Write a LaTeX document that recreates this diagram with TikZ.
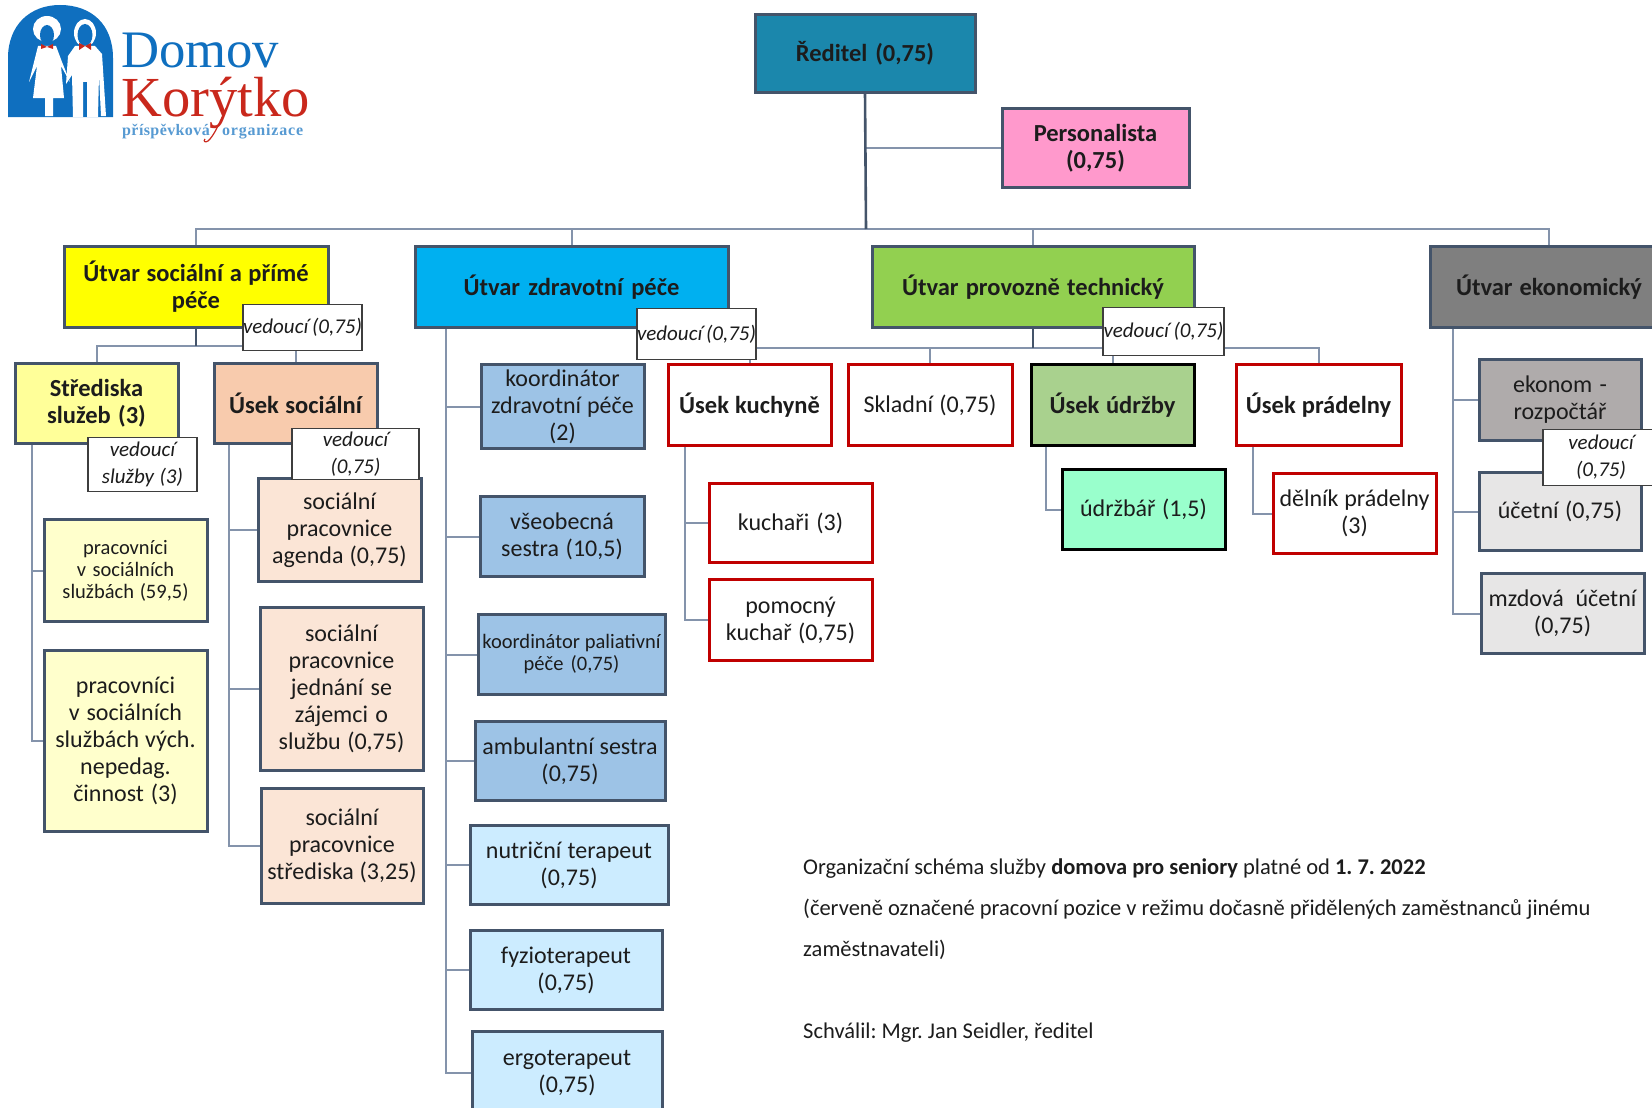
\documentclass[tikz,border=0pt]{standalone}
\usepackage{fontspec}
\setmainfont{Carlito}
\newfontfamily\logofont{Liberation Serif}
\usetikzlibrary{backgrounds}
\frenchspacing
\definecolor{edge}{HTML}{44546A}
\definecolor{lightconn}{HTML}{8493AB}
\definecolor{redb}{HTML}{C00000}
\definecolor{ink}{HTML}{1C1C1C}
\definecolor{logoblue}{HTML}{0F6FBF}
\definecolor{logored}{HTML}{C9281C}
\definecolor{cdir}{HTML}{1B87AC}
\definecolor{cpink}{HTML}{FF99CC}
\definecolor{cyel}{HTML}{FFFF00}
\definecolor{ccyan}{HTML}{00B0F0}
\definecolor{cgreen}{HTML}{92D050}
\definecolor{cgrey}{HTML}{7F7F7F}
\definecolor{cyelb}{HTML}{FFFF99}
\definecolor{cyelc}{HTML}{FFFFCC}
\definecolor{cpeach}{HTML}{F8CBAD}
\definecolor{cpeachl}{HTML}{FBE5D6}
\definecolor{cblue}{HTML}{9DC3E6}
\definecolor{cbluel}{HTML}{CCECFF}
\definecolor{cgreenb}{HTML}{A9D18E}
\definecolor{cmint}{HTML}{99FFCC}
\definecolor{cgreyb}{HTML}{AFABAB}
\definecolor{cgreyl}{HTML}{E7E6E6}
\newcommand{\fsN}{\fontsize{24}{27}\selectfont}
\newcommand{\fsS}{\fontsize{20.5}{22}\selectfont}
\newcommand{\fsV}{\fontsize{21}{27}\selectfont\itshape}
\tikzset{
  x=1pt,y=-1pt,
  box/.style={draw=edge,line width=3pt,inner sep=0pt,outer sep=0pt,align=center,text=ink,font=\fsN},
  redbox/.style={box,draw=redb},
  blackbox/.style={box,draw=black},
  hd/.style={font=\fontsize{24.5}{27}\selectfont\bfseries},
  small/.style={font=\fsS},
  lead/.style={draw=ink!85,line width=1.5pt,fill=white,inner sep=0pt,outer sep=0pt,align=center,text=ink,font=\fsV},
  conn/.style={draw=edge,line width=2pt},
  lconn/.style={draw=lightconn,line width=2pt},
  note/.style={anchor=base west,inner sep=0pt,text=ink,font=\fontsize{22.5}{25}\selectfont},
}
\newcommand{\bx}[7][]{%
  \pgfmathsetmacro{\cxx}{(#3+#5)/2}\pgfmathsetmacro{\cyy}{(#4+#6)/2}%
  \pgfmathsetmacro{\ww}{#5-#3-3}\pgfmathsetmacro{\hh}{#6-#4-3}\pgfmathsetmacro{\tw}{#5-#3-2}%
  \node[#1,minimum width=\ww pt,minimum height=\hh pt,text width=\tw pt] (#2) at (\cxx,\cyy) {\spaceskip=0pt\relax #7};}
\begin{document}
\begin{tikzpicture}
\useasboundingbox (0,0) rectangle (1652,1108);
\clip (0,0) rectangle (1652,1108);
% logo
\fill[logoblue] (8,117) -- (8,58) .. controls (8,25) and (30,5) .. (60,5) .. controls (92,5) and (113,25) .. (113,58) -- (113,117) -- cycle;
\fill[white] (47,29) ellipse (14 and 13);
\fill[logoblue] (47,35) ellipse (7 and 10);
\fill[white] (38,46) -- (56,46) -- (62,62) -- (70,82) -- (61,66) -- (64,98) -- (53,98) -- (53,116) -- (45,116) -- (45,98) -- (33,98) -- (37,66) -- (29,82) -- cycle;
\fill[white] (85,33) ellipse (11 and 14);
\fill[logoblue] (85,35) ellipse (7.5 and 11);
\fill[white] (75,46) -- (95,46) -- (102,54) -- (106,116) -- (101,116) -- (99,75) -- (98,117) -- (87,117) -- (87,82) -- (83,82) -- (83,117) -- (73,117) -- (72,75) -- (66,84) -- (68,56) -- cycle;
\fill[logored] (41,44) -- (47,47) -- (53,44) -- (53,49) -- (47,47) -- (41,49) -- cycle;
\fill[logored] (79,43) -- (85,46) -- (91,43) -- (91,50) -- (85,46) -- (79,50) -- cycle;
\node[anchor=base west,inner sep=0pt,text=logoblue,font=\logofont\fontsize{52.7}{52}\selectfont] (dom) at (121,68) {Domov};
\node[anchor=base west,inner sep=0pt,text=logored,font=\logofont\fontsize{56.6}{56}\selectfont] (kor) at (121,117) {Korýtko};
\node[anchor=base west,inner sep=0pt,text=logoblue!70,font=\logofont\bfseries\fontsize{16}{16}\selectfont\addfontfeature{LetterSpace=2.5}] (pri) at (122,135) {příspěvková};
\node[anchor=base west,inner sep=0pt,text=logoblue!70,font=\logofont\bfseries\fontsize{16}{16}\selectfont\addfontfeature{LetterSpace=5}] (org) at (222,135) {organizace};
\draw[logored,line width=1.2pt] (226,108) .. controls (220,122) and (214,136) .. (208,141) .. controls (205,143) and (203,141) .. (205,139);
% top
\bx[box,hd,fill=cdir]{reditel}{754}{13}{976}{94}{Ředitel (0,75)}
\bx[box,hd,fill=cpink]{pers}{1001}{107}{1190}{189}{Personalista\\(0,75)}
\bx[box,hd,fill=cyel]{soc}{63}{245}{329}{329}{Útvar sociální a přímé\\péče}
\bx[box,hd,fill=ccyan]{zdr}{414}{245}{729}{329}{Útvar zdravotní péče}
\bx[box,hd,fill=cgreen]{prov}{871}{245}{1195}{329}{Útvar provozně technický}
\bx[box,hd,fill=cgrey]{eko}{1429}{245}{1669}{329}{Útvar ekonomický}
% social
\bx[box,hd,fill=cyelb]{stred}{14}{362}{179}{445}{Střediska\\služeb (3)}
\bx[box,hd,fill=cpeach]{usoc}{213}{362}{378}{445}{Úsek sociální}
\bx[box,small,fill=cyelc]{prac}{43}{518}{208}{623}{pracovníci\\v sociálních\\službách (59,5)}
\bx[box,fill=cyelc]{pracb}{43}{649}{208}{833}{pracovníci\\v sociálních\\službách vých.\\nepedag.\\činnost (3)}
\bx[box,fill=cpeachl]{agenda}{257}{477}{422}{583}{sociální\\pracovnice\\agenda (0,75)}
\bx[box,fill=cpeachl]{jedn}{259}{606}{424}{772}{sociální\\pracovnice\\jednání se\\zájemci o\\službu (0,75)}
\bx[box,fill=cpeachl]{stsoc}{260}{787}{424}{905}{sociální\\pracovnice\\střediska (3,25)}
% health
\bx[box,fill=cblue]{koord}{480}{363}{645}{450}{koordinátor\\zdravotní péče\\(2)}
\bx[box,fill=cblue]{vseob}{479}{495}{645}{578}{všeobecná\\sestra (10,5)}
\bx[box,small,fill=cblue]{pali}{477}{613}{666}{696}{koordinátor paliativní\\péče (0,75)}
\bx[box,fill=cblue]{amb}{474}{720}{666}{802}{ambulantní sestra\\(0,75)}
\bx[box,fill=cbluel]{nutr}{469}{824}{669}{906}{nutriční terapeut\\(0,75)}
\bx[box,fill=cbluel]{fyz}{469}{929}{663}{1011}{fyzioterapeut\\(0,75)}
\bx[box,fill=cbluel]{ergo}{471}{1030}{663}{1116}{ergoterapeut\\(0,75)}
% technical
\bx[redbox,hd,fill=white]{kuch}{667}{363}{832}{447}{Úsek kuchyně}
\bx[redbox,fill=white]{skl}{847}{363}{1013}{447}{Skladní (0,75)}
\bx[blackbox,hd,fill=cgreenb]{udr}{1030}{363}{1195}{447}{Úsek údržby}
\bx[redbox,hd,fill=white]{prad}{1235}{363}{1402}{447}{Úsek prádelny}
\bx[redbox,fill=white]{kuchari}{708}{482}{873}{564}{kuchaři (3)}
\bx[redbox,fill=white]{pom}{708}{578}{873}{662}{pomocný\\kuchař (0,75)}
\bx[blackbox,fill=cmint]{udrz}{1061}{468}{1226}{551}{údržbář (1,5)}
\bx[redbox,fill=white]{deln}{1272}{472}{1437}{555}{dělník prádelny\\(3)}
% economy
\bx[box,fill=cgreyb]{ekonom}{1478}{358}{1642}{442}{ekonom -\\rozpočtář}
\bx[box,fill=cgreyl]{ucet}{1478}{471}{1642}{552}{účetní (0,75)}
\bx[box,fill=cgreyl]{mzd}{1480}{572}{1645}{655}{mzdová\ \ účetní\\(0,75)}
% leaders
\bx[lead]{vsoc}{242}{303}{363}{352}{vedoucí (0,75)}
\bx[lead]{vstr}{87}{436}{198}{493}{vedoucí\\služby (3)}
\bx[lead]{vus}{291}{427}{420}{481}{vedoucí\\(0,75)}
\bx[lead]{vzdr}{636}{307}{757}{361}{vedoucí (0,75)}
\bx[lead]{vprov}{1102}{306}{1225}{357}{vedoucí (0,75)}
\bx[lead]{veko}{1542}{428}{1660}{487}{vedoucí\\(0,75)}
% notes
\node[note] (n1) at (803,874) {Organizační schéma služby \textbf{domova pro seniory} platné od \textbf{1. 7. 2022}};
\node[note] (n2) at (803,915) {(červeně označené pracovní pozice v režimu dočasně přidělených zaměstnanců jinému};
\node[note] (n3) at (803,956) {zaměstnavateli)};
\node[note] (n4) at (803,1038) {Schválil: Mgr. Jan Seidler, ředitel};
% connectors
\coordinate (topbus) at (866,229);
\coordinate (socbus) at (196,346);
\coordinate (provbus) at (1033,348);
\begin{scope}[on background layer]
\draw[lconn] (pers.west) -| (reditel.south);
\draw[lconn] (soc.north) |- (topbus);
\draw[lconn] (zdr.north) |- (topbus);
\draw[lconn] (prov.north) |- (topbus);
\draw[lconn] (eko.north) |- (topbus);
\draw[conn,line width=2.6pt] (reditel.south) -- (topbus);
\draw[lconn] (stred.north) |- (socbus);
\draw[lconn] (usoc.north) |- (socbus);
\draw[conn] (soc.south) -- (socbus);
\draw[lconn] (kuch.north) |- (provbus);
\draw[lconn] (skl.north) |- (provbus);
\draw[lconn] (udr.north) |- (provbus);
\draw[lconn] (prad.north) |- (provbus);
\draw[conn] (prov.south) -- (provbus);
\foreach \c in {prac,pracb} \draw[lconn] ([xshift=17pt]stred.south west) |- (\c.west);
\foreach \c in {agenda,jedn,stsoc} \draw[lconn] ([xshift=15pt]usoc.south west) |- (\c.west);
\foreach \c in {koord,vseob,pali,amb,nutr,fyz,ergo} \draw[lconn] ([xshift=31pt]zdr.south west) |- (\c.west);
\foreach \c in {kuchari,pom} \draw[lconn] ([xshift=17pt]kuch.south west) |- (\c.west);
\draw[lconn] ([xshift=15pt]udr.south west) |- (udrz.west);
\draw[lconn] ([xshift=17pt]prad.south west) |- (deln.west);
\foreach \c in {ekonom,ucet,mzd} \draw[lconn] ([xshift=23pt]eko.south west) |- (\c.west);
\end{scope}
\end{tikzpicture}
\end{document}
